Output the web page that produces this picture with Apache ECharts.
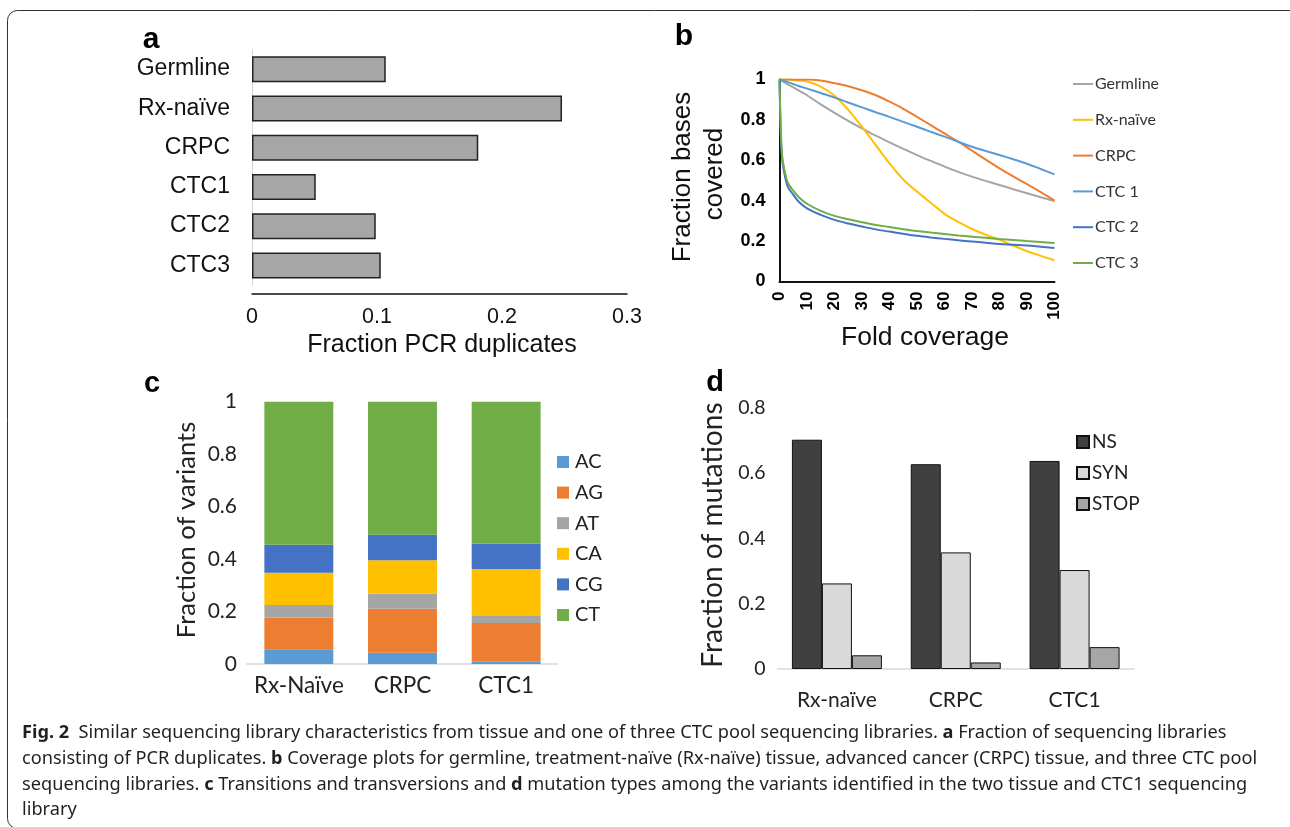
<!DOCTYPE html>
<html>
<head>
<meta charset="utf-8">
<script src="https://cdn.jsdelivr.net/npm/echarts@6/dist/echarts.min.js"></script>
<style>
html,body{margin:0;padding:0;background:#fff;}
#chart{width:1290px;height:827px;}
</style>
</head>
<body>
<div id="chart"></div>
<script>
// ---------- Panel a ----------
const libCategories = ['Germline', 'Rx-naïve', 'CRPC', 'CTC1', 'CTC2', 'CTC3'];
const pcrDuplicates = [0.107, 0.248, 0.181, 0.051, 0.099, 0.103];
const aTicks = [0, 0.1, 0.2, 0.3];

// ---------- Panel b ----------
const foldCoverage = [0, 0.5, 1, 2, 3, 5, 7, 10, 15, 20, 25, 30, 35, 40, 45, 50, 55, 60, 65, 70, 75, 80, 85, 90, 95, 100];
const germlineCov = [1, 0.996, 0.992, 0.984, 0.976, 0.961, 0.946, 0.922, 0.877, 0.835, 0.795, 0.758, 0.722, 0.689, 0.657, 0.626, 0.597, 0.569, 0.543, 0.519, 0.498, 0.478, 0.457, 0.437, 0.417, 0.398];
const rxNaiveCov  = [1, 1, 1, 1, 1, 0.998, 0.995, 0.99, 0.965, 0.92, 0.85, 0.766, 0.675, 0.585, 0.505, 0.445, 0.39, 0.335, 0.295, 0.26, 0.232, 0.206, 0.178, 0.15, 0.127, 0.105];
const crpcCov     = [1, 1, 1, 1, 1, 1, 1, 1, 0.995, 0.982, 0.967, 0.947, 0.922, 0.89, 0.855, 0.815, 0.774, 0.733, 0.692, 0.648, 0.603, 0.56, 0.52, 0.482, 0.442, 0.4];
const ctc1Cov     = [1, 0.998, 0.996, 0.991, 0.987, 0.978, 0.968, 0.955, 0.933, 0.911, 0.886, 0.862, 0.838, 0.815, 0.79, 0.766, 0.741, 0.717, 0.692, 0.667, 0.646, 0.626, 0.605, 0.583, 0.557, 0.53];
const ctc2Cov     = [1, 0.72, 0.6, 0.52, 0.47, 0.43, 0.395, 0.362, 0.33, 0.305, 0.287, 0.272, 0.258, 0.247, 0.236, 0.226, 0.218, 0.211, 0.204, 0.198, 0.192, 0.186, 0.182, 0.178, 0.172, 0.166];
const ctc3Cov     = [1, 0.74, 0.62, 0.54, 0.49, 0.45, 0.417, 0.385, 0.35, 0.325, 0.308, 0.293, 0.28, 0.27, 0.259, 0.25, 0.242, 0.235, 0.228, 0.222, 0.216, 0.21, 0.205, 0.2, 0.196, 0.19];
const covSeriesNames = ['Germline', 'Rx-naïve', 'CRPC', 'CTC 1', 'CTC 2', 'CTC 3'];

// ---------- Panel c ----------
const variantCategories = ['Rx-Naïve', 'CRPC', 'CTC1'];
const acVals = [0.056, 0.043, 0.009];
const agVals = [0.121, 0.168, 0.147];
const atVals = [0.048, 0.058, 0.030];
const caVals = [0.123, 0.127, 0.176];
const cgVals = [0.107, 0.097, 0.097];
const ctVals = [0.545, 0.507, 0.541];
const variantNames = ['AC', 'AG', 'AT', 'CA', 'CG', 'CT'];

// ---------- Panel d ----------
const mutationCategories = ['Rx-naïve', 'CRPC', 'CTC1'];
const nsVals = [0.702, 0.627, 0.637];
const synVals = [0.262, 0.357, 0.303];
const stopVals = [0.042, 0.020, 0.067];
const mutationNames = ['NS', 'SYN', 'STOP'];

const ARIAL = '"Liberation Sans", Arial, sans-serif';
const CALIBRI = 'Lato, "Open Sans", sans-serif';
const CAPTION = '"Noto Sans", "Open Sans", sans-serif';

const chart = echarts.init(document.getElementById('chart'), null, {renderer: 'canvas'});

const covData = [germlineCov, rxNaiveCov, crpcCov, ctc1Cov, ctc2Cov, ctc3Cov];
const covColors = ['#A5A5A5', '#FFC000', '#ED7D31', '#5B9BD5', '#4472C4', '#70AD47'];
const lineSeries = covData.map((arr, i) => ({
  name: covSeriesNames[i], type: 'line', xAxisIndex: 1, yAxisIndex: 1,
  data: foldCoverage.map((x, j) => [x, arr[j]]),
  showSymbol: false, smooth: 0.35,
  lineStyle: {color: covColors[i], width: 2}, itemStyle: {color: covColors[i]}
}));

const variantData = [acVals, agVals, atVals, caVals, cgVals, ctVals];
const variantColors = ['#5B9BD5', '#ED7D31', '#A5A5A5', '#FFC000', '#4472C4', '#70AD47'];
const stackSeries = variantData.map((arr, i) => ({
  name: variantNames[i], type: 'bar', stack: 'var', xAxisIndex: 2, yAxisIndex: 2,
  data: arr, barWidth: '66.5%', itemStyle: {color: variantColors[i]}
}));

const mutData = [nsVals, synVals, stopVals];
const mutColors = ['#404040', '#D9D9D9', '#A6A6A6'];
const mutSeries = mutData.map((arr, i) => ({
  name: mutationNames[i], type: 'bar', xAxisIndex: 3, yAxisIndex: 3,
  data: arr, barWidth: 30, barGap: '0%',
  itemStyle: {color: mutColors[i], borderColor: '#111', borderWidth: 1}
}));

function captionLine(y, text) {
  return {type: 'text', x: 22, y: y, style: {
    text: text, fill: '#231f20', fontFamily: CAPTION, fontSize: 18.2,
    verticalAlign: 'middle', align: 'left',
    rich: {b: {fontWeight: 'bold', fontFamily: CAPTION, fontSize: 18.2, fill: '#231f20'}}
  }};
}

const option = {
  backgroundColor: '#ffffff',
  animation: false,
  grid: [
    {left: 252, top: 49.5, width: 375, height: 235.5, containLabel: false},
    {left: 779.5, top: 79.5, width: 275, height: 202, containLabel: false},
    {left: 247, top: 401.7, width: 311, height: 262.3, containLabel: false},
    {left: 777.5, top: 407.7, width: 356.5, height: 261.3, containLabel: false}
  ],
  xAxis: [
    {gridIndex: 0, type: 'value', min: aTicks[0], max: aTicks[aTicks.length - 1], interval: 0.1, offset: 9,
     axisLine: {show: true, lineStyle: {color: '#111', width: 1.5}}, axisTick: {show: false},
     splitLine: {show: false},
     axisLabel: {fontFamily: ARIAL, fontSize: 21.5, color: '#111', margin: 12}},
    {gridIndex: 1, type: 'value', min: 0, max: 100, interval: 10,
     axisLine: {show: true, onZero: false, lineStyle: {color: '#111', width: 2}}, axisTick: {show: false},
     splitLine: {show: false},
     axisLabel: {fontFamily: ARIAL, fontSize: 17, fontWeight: 'bold', color: '#000', rotate: 90, margin: 10}},
    {gridIndex: 2, type: 'category', data: variantCategories,
     axisLine: {show: true, lineStyle: {color: '#D9D9D9', width: 1.5}}, axisTick: {show: false},
     axisLabel: {fontFamily: CALIBRI, fontSize: 22.5, color: '#222', margin: 10, interval: 0}},
    {gridIndex: 3, type: 'category', data: mutationCategories,
     axisLine: {show: true, lineStyle: {color: '#D9D9D9', width: 1.5}}, axisTick: {show: false},
     axisLabel: {fontFamily: CALIBRI, fontSize: 21, color: '#222', margin: 21, interval: 0}}
  ],
  yAxis: [
    {gridIndex: 0, type: 'category', data: libCategories, inverse: true,
     axisLine: {show: true, lineStyle: {color: '#d4d4d4', width: 1}}, axisTick: {show: false},
     axisLabel: {fontFamily: ARIAL, fontSize: 23, color: '#111', margin: 22, interval: 0}},
    {gridIndex: 1, type: 'value', min: 0, max: 1, interval: 0.2,
     axisLine: {show: true, lineStyle: {color: '#111', width: 2}}, axisTick: {show: false},
     splitLine: {show: false},
     axisLabel: {fontFamily: ARIAL, fontSize: 18, fontWeight: 'bold', color: '#000', margin: 14}},
    {gridIndex: 2, type: 'value', min: 0, max: 1, interval: 0.2,
     axisLine: {show: false}, axisTick: {show: false}, splitLine: {show: false},
     axisLabel: {fontFamily: CALIBRI, fontSize: 21, color: '#222', margin: 10}},
    {gridIndex: 3, type: 'value', min: 0, max: 0.8, interval: 0.2,
     axisLine: {show: false}, axisTick: {show: false}, splitLine: {show: false},
     axisLabel: {fontFamily: CALIBRI, fontSize: 19.5, color: '#222', margin: 12}}
  ],
  legend: [
    {data: covSeriesNames, orient: 'vertical', left: 1073, top: 74, padding: 0, itemGap: 15.8,
     icon: 'rect', itemWidth: 20, itemHeight: 2,
     textStyle: {fontFamily: CALIBRI, fontSize: 16, color: '#333', lineHeight: 20, padding: [0, 0, 0, -3]}},
    {data: variantNames, orient: 'vertical', left: 557, top: 452, padding: 0, itemGap: 10.6,
     icon: 'rect', itemWidth: 12, itemHeight: 12,
     textStyle: {fontFamily: CALIBRI, fontSize: 20, color: '#222', lineHeight: 20, padding: [0, 0, 0, 1]}},
    {data: mutationNames, orient: 'vertical', left: 1076, top: 432, padding: 0, itemGap: 11,
     icon: 'rect', itemWidth: 12, itemHeight: 12,
     textStyle: {fontFamily: CALIBRI, fontSize: 19, color: '#222', lineHeight: 20, padding: [0, 0, 0, -2]}}
  ],
  series: [
    {name: 'PCR duplicates', type: 'bar', xAxisIndex: 0, yAxisIndex: 0, data: pcrDuplicates,
     barWidth: 26, itemStyle: {color: '#A6A6A6', borderColor: '#222', borderWidth: 1.5}},
    ...lineSeries,
    ...stackSeries,
    ...mutSeries
  ],
  graphic: [
    {type: 'rect', shape: {x: 7.5, y: 10.5, width: 1300, height: 818, r: 10},
     style: {fill: 'none', stroke: '#333', lineWidth: 1}},
    {type: 'text', x: 151, y: 40, style: {text: 'a', fontFamily: ARIAL, fontWeight: 'bold', fontSize: 30, fill: '#000', align: 'center', verticalAlign: 'middle'}},
    {type: 'text', x: 684, y: 37, style: {text: 'b', fontFamily: ARIAL, fontWeight: 'bold', fontSize: 30, fill: '#000', align: 'center', verticalAlign: 'middle'}},
    {type: 'text', x: 152, y: 384, style: {text: 'c', fontFamily: ARIAL, fontWeight: 'bold', fontSize: 29, fill: '#000', align: 'center', verticalAlign: 'middle'}},
    {type: 'text', x: 715, y: 383, style: {text: 'd', fontFamily: ARIAL, fontWeight: 'bold', fontSize: 29, fill: '#000', align: 'center', verticalAlign: 'middle'}},
    {type: 'text', x: 442, y: 345, style: {text: 'Fraction PCR duplicates', fontFamily: ARIAL, fontSize: 25, fill: '#111', align: 'center', verticalAlign: 'middle'}},
    {type: 'text', x: 925, y: 338, style: {text: 'Fold coverage', fontFamily: ARIAL, fontSize: 26.5, fill: '#111', align: 'center', verticalAlign: 'middle'}},
    {type: 'text', x: 683, y: 177, rotation: Math.PI / 2, style: {text: 'Fraction bases', fontFamily: ARIAL, fontSize: 26, fill: '#111', align: 'center', verticalAlign: 'middle'}},
    {type: 'text', x: 715, y: 174, rotation: Math.PI / 2, style: {text: 'covered', fontFamily: ARIAL, fontSize: 26, fill: '#111', align: 'center', verticalAlign: 'middle'}},
    {type: 'text', x: 187, y: 530, rotation: Math.PI / 2, style: {text: 'Fraction of variants', fontFamily: CALIBRI, fontSize: 25.6, fill: '#222', align: 'center', verticalAlign: 'middle'}},
    {type: 'text', x: 713, y: 535, rotation: Math.PI / 2, style: {text: 'Fraction of mutations', fontFamily: CALIBRI, fontSize: 28.2, fill: '#222', align: 'center', verticalAlign: 'middle'}},
    captionLine(733, '{b|Fig. 2}  Similar sequencing library characteristics from tissue and one of three CTC pool sequencing libraries. {b|a} Fraction of sequencing libraries'),
    captionLine(759, 'consisting of PCR duplicates. {b|b} Coverage plots for germline, treatment-naïve (Rx-naïve) tissue, advanced cancer (CRPC) tissue, and three CTC pool'),
    captionLine(785, 'sequencing libraries. {b|c} Transitions and transversions and {b|d} mutation types among the variants identified in the two tissue and CTC1 sequencing'),
    captionLine(810, 'library')
  ]
};
chart.setOption(option);
</script>
</body>
</html>
